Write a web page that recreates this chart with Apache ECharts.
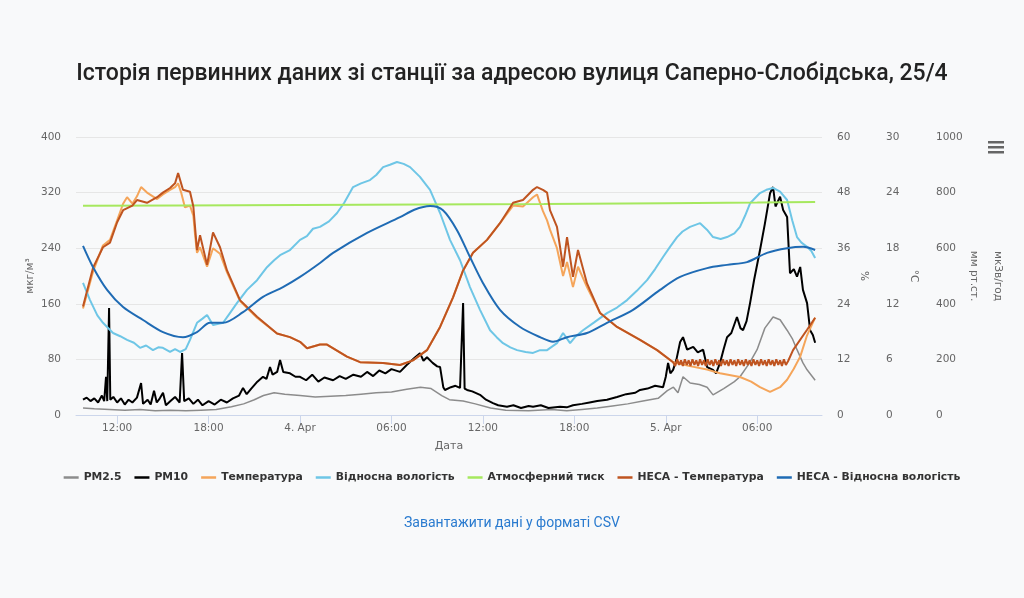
<!DOCTYPE html>
<html>
<head>
<meta charset="utf-8">
<script src="https://cdn.jsdelivr.net/npm/echarts@6/dist/echarts.min.js"></script>
<style>
html,body{margin:0;padding:0;background:#f8f9fa;}
#c{width:1024px;height:598px;}
</style>
</head>
<body>
<div id="c"></div>
<script>
// Time values are hours since 3 Apr 00:00
const xTickHours = [12, 18, 24, 30, 36, 42, 48, 54];
const xTickLabels = ['12:00', '18:00', '4. Apr', '06:00', '12:00', '18:00', '5. Apr', '06:00'];

const pm25 = [[9.76,10],[10.5,9],[11.5,8],[12.5,7],[13.5,8],[14.5,6],[15.5,7],[16.5,6],[17.5,7],[18.5,8],[19.5,12],[20.3,16],[21.0,22],[21.6,28],[22.3,32],[23.0,30],[24.0,28],[25.0,26],[26.0,27],[27.0,28],[28.0,30],[29.0,32],[30.0,33],[31.0,37],[31.9,40],[32.6,38],[33.3,28],[33.8,22],[34.7,20],[35.5,16],[36.5,10],[37.5,7],[39.0,6],[40.5,8],[41.5,6],[42.5,8],[43.5,10],[44.5,13],[45.5,16],[46.5,20],[47.5,24],[48.1,35],[48.5,40],[48.8,32],[49.13,55],[49.6,46],[50.2,44],[50.71,40],[51.1,29],[51.8,38],[52.5,48],[52.87,55],[53.5,75],[53.99,94],[54.5,125],[55.04,141],[55.5,137],[55.96,122],[56.3,110],[56.61,94],[57.0,75],[57.27,65],[57.8,50]];

const pm10 = [[9.76,22],[10.0,25],[10.25,20],[10.5,24],[10.75,18],[11.0,28],[11.15,20],[11.27,55],[11.35,20],[11.47,154],[11.55,22],[11.75,26],[12.0,18],[12.25,24],[12.5,15],[12.75,22],[13.0,18],[13.3,25],[13.57,46],[13.7,16],[14.0,22],[14.2,15],[14.42,35],[14.6,18],[14.8,24],[15.01,32],[15.2,14],[15.5,20],[15.8,26],[16.1,18],[16.26,89],[16.4,20],[16.7,24],[17.0,16],[17.3,22],[17.6,14],[18.0,20],[18.4,15],[18.8,22],[19.2,18],[19.6,24],[20.0,28],[20.26,39],[20.5,30],[20.8,38],[21.2,48],[21.57,55],[21.8,52],[22.03,69],[22.2,58],[22.5,62],[22.69,79],[22.9,62],[23.34,60],[23.7,55],[24.0,55],[24.4,50],[24.8,58],[25.2,48],[25.6,54],[26.17,50],[26.6,56],[27.0,52],[27.5,58],[28.0,55],[28.4,62],[28.8,56],[29.2,64],[29.6,60],[30.0,66],[30.56,62],[31.0,72],[31.5,82],[31.87,89],[32.1,78],[32.33,83],[32.7,75],[33.0,70],[33.19,69],[33.4,40],[33.51,36],[33.9,40],[34.2,42],[34.5,39],[34.7,161],[34.8,38],[34.96,36],[35.3,34],[35.81,29],[36.2,22],[36.66,17],[37.0,14],[37.58,12],[38.0,14],[38.5,10],[39.0,13],[39.29,12],[39.8,14],[40.3,10],[41.06,12],[41.5,11],[41.91,14],[42.5,16],[43.0,18],[43.5,20],[44.14,22],[44.8,26],[45.4,30],[46.0,32],[46.31,36],[46.8,38],[47.3,42],[47.82,40],[48.0,55],[48.15,75],[48.3,60],[48.48,65],[48.7,80],[48.94,105],[49.13,112],[49.4,94],[49.8,98],[50.1,90],[50.45,94],[50.71,69],[51.1,65],[51.3,60],[51.56,75],[51.8,95],[52.02,112],[52.3,118],[52.67,141],[52.9,125],[53.07,122],[53.3,135],[53.53,161],[53.8,195],[54.18,237],[54.5,275],[54.84,319],[55.04,328],[55.2,300],[55.5,314],[55.7,295],[55.96,285],[56.15,204],[56.4,210],[56.61,199],[56.82,213],[57.0,180],[57.27,161],[57.47,122],[57.65,115],[57.8,104]];

const temperature = [[9.76,11.5],[10.42,15.5],[11.07,18.3],[11.53,18.9],[12.0,21.0],[12.39,22.8],[12.65,23.5],[13.0,22.8],[13.3,23.6],[13.57,24.6],[13.96,24.0],[14.62,23.3],[15.0,23.8],[15.47,24.3],[15.8,24.6],[16.0,25.0],[16.2,24.0],[16.45,22.4],[16.78,22.6],[17.0,21.5],[17.11,19.5],[17.24,17.5],[17.44,18.1],[17.9,16.0],[18.29,18.0],[18.75,17.4],[19.21,15.4],[20.06,12.3],[21.18,10.5],[22.49,8.8],[23.34,8.4],[24.0,7.9],[24.46,7.2],[25.31,7.6],[25.77,7.6],[27.08,6.3],[27.94,5.7],[29.45,5.6],[30.56,5.4],[31.41,5.9],[32.33,7.0],[33.19,9.5],[34.04,12.7],[34.7,15.6],[35.35,17.5],[36.27,18.9],[37.12,20.7],[37.98,22.6],[38.63,22.5],[39.29,23.5],[39.55,23.8],[39.94,22.0],[40.21,21.0],[40.4,20.0],[40.86,18.0],[41.26,15.0],[41.52,16.5],[41.91,13.8],[42.24,16.0],[42.83,13.8],[43.69,11.0],[44.80,9.5],[46.31,8.1],[47.43,7.0],[48.48,5.7],[49.5,5.3],[50.71,4.9],[51.56,4.5],[52.87,4.1],[53.6,3.6],[54.18,3.0],[54.84,2.5],[55.5,3.0],[55.96,3.8],[56.4,5.0],[56.82,6.3],[57.27,8.6],[57.8,10.5]];

const humidity = [[9.76,28.5],[10.22,24.8],[10.7,21.5],[11.07,19.9],[11.73,17.7],[12.2,17.0],[12.65,16.2],[13.1,15.6],[13.5,14.5],[13.9,15.0],[14.35,14.0],[14.7,14.6],[15.0,14.5],[15.47,13.6],[15.8,14.2],[16.13,13.6],[16.5,14.2],[16.78,16.2],[17.24,19.9],[17.6,20.8],[17.9,21.6],[18.29,19.4],[18.95,19.9],[19.4,22.0],[19.87,24.2],[20.52,27.0],[21.18,29.1],[21.83,31.9],[22.3,33.4],[22.69,34.5],[23.34,35.6],[24.0,37.8],[24.45,38.6],[24.85,40.2],[25.31,40.6],[25.9,41.8],[26.43,43.6],[26.9,45.8],[27.48,49.2],[28.0,50.0],[28.59,50.7],[29.0,51.8],[29.45,53.5],[29.9,54.0],[30.36,54.6],[30.8,54.2],[31.22,53.5],[31.87,51.4],[32.53,48.6],[33.19,43.6],[33.84,37.8],[34.5,33.4],[35.15,27.6],[35.81,22.7],[36.47,18.3],[36.9,16.8],[37.32,15.5],[37.8,14.6],[38.24,14.0],[38.8,13.6],[39.29,13.4],[39.75,14.0],[40.21,14.0],[40.86,15.5],[41.26,17.7],[41.72,15.5],[42.1,17.0],[42.57,18.3],[43.3,20.0],[44.14,22.0],[44.8,23.2],[45.46,24.8],[46.1,26.8],[46.77,29.1],[47.3,31.5],[47.82,34.1],[48.3,36.4],[48.74,38.4],[49.1,39.6],[49.59,40.6],[50.25,41.4],[50.7,40.0],[51.10,38.4],[51.6,38.0],[52.02,38.4],[52.5,39.2],[52.87,40.6],[53.2,43.0],[53.53,45.7],[54.18,47.9],[54.6,48.6],[55.04,49.0],[55.5,48.2],[55.96,46.4],[56.3,42.0],[56.61,38.4],[56.9,37.2],[57.27,36.3],[57.55,35.4],[57.8,33.9]];

const pressure = [[9.76,753],[16,754],[24,755],[32,757],[40,759],[48,762],[54,764],[57.8,766]];

const hecaTemperature = [[9.76,11.7],[10.42,15.9],[11.07,18.1],[11.53,18.6],[12.0,20.8],[12.39,22.1],[13.0,22.6],[13.3,23.2],[13.96,22.9],[14.62,23.5],[15.0,24.0],[15.47,24.5],[15.8,25.0],[16.0,26.1],[16.32,24.3],[16.78,24.1],[17.0,22.5],[17.11,20.3],[17.24,17.8],[17.44,19.4],[17.9,16.2],[18.29,19.7],[18.75,18.1],[19.21,15.6],[20.06,12.4],[21.18,10.6],[22.49,8.8],[23.34,8.4],[24.0,7.9],[24.46,7.2],[25.31,7.6],[25.77,7.6],[27.08,6.3],[27.94,5.7],[29.45,5.6],[30.56,5.4],[31.41,5.9],[32.33,7.0],[33.19,9.5],[34.04,12.7],[34.7,15.6],[35.35,17.5],[36.27,18.9],[37.12,20.7],[37.98,22.9],[38.63,23.2],[39.29,24.3],[39.55,24.6],[39.94,24.3],[40.21,24.0],[40.4,22.1],[40.86,20.3],[41.26,16.0],[41.52,19.2],[41.91,14.9],[42.24,17.8],[42.83,14.2],[43.69,11.0],[44.80,9.5],[46.31,8.1],[47.43,7.0],[48.48,5.7],[48.62,5.3],[48.75,6.0],[48.88,5.4],[49.0,5.9],[49.12,5.3],[49.25,6.0],[49.38,5.4],[49.5,5.9],[49.62,5.3],[49.75,6.0],[49.88,5.4],[50.0,5.9],[50.12,5.3],[50.25,6.0],[50.38,5.4],[50.5,5.9],[50.62,5.3],[50.75,6.0],[50.88,5.4],[51.0,5.9],[51.12,5.3],[51.25,6.0],[51.38,5.4],[51.5,5.9],[51.62,5.3],[51.75,6.0],[51.88,5.4],[52.0,5.9],[52.12,5.3],[52.25,6.0],[52.38,5.4],[52.5,5.9],[52.62,5.3],[52.75,6.0],[52.88,5.4],[53.0,5.9],[53.12,5.3],[53.25,6.0],[53.38,5.4],[53.5,5.9],[53.62,5.3],[53.75,6.0],[53.88,5.4],[54.0,5.9],[54.12,5.3],[54.25,6.0],[54.38,5.4],[54.5,5.9],[54.62,5.3],[54.75,6.0],[54.88,5.4],[55.0,5.9],[55.12,5.3],[55.25,6.0],[55.38,5.4],[55.5,5.9],[55.62,5.3],[55.75,6.0],[55.88,5.4],[56.02,5.8],[56.35,7.0],[57.27,9.2],[57.8,10.5]];

const hecaHumidity = [[9.76,36.5],[10.42,31.9],[11.34,27.0],[12.39,23.3],[13.7,20.5],[15.01,17.9],[16.32,16.8],[17.24,17.9],[18.09,19.9],[18.95,19.9],[20.26,22.2],[21.57,25.5],[22.88,27.6],[24.0,29.8],[25.31,32.8],[26.17,35.0],[28.40,39.3],[30.56,42.7],[31.5,44.3],[32.53,45.1],[33.38,44.2],[34.30,39.9],[35.15,34.1],[36.0,28.5],[37.12,22.7],[38.44,19.0],[39.75,16.8],[40.60,15.8],[41.52,16.8],[42.83,17.7],[44.14,19.9],[45.85,22.7],[47.62,27.0],[48.94,29.8],[50.71,31.7],[52.02,32.4],[53.33,33.0],[54.64,35.0],[55.96,36.0],[57.01,36.3],[57.8,35.6]];

const seriesNames = ['PM2.5', 'PM10', 'Температура', 'Відносна вологість', 'Атмосферний тиск', 'НЕСА - Температура', 'НЕСА - Відносна вологість'];
const seriesColors = ['#8c8c8c', '#000000', '#f5a55a', '#6ec6e6', '#a6e85e', '#bf5420', '#1f6bb4'];

const chart = echarts.init(document.getElementById('c'));
const lbl = {color:'#666', fontFamily:'DejaVu Sans', fontSize:10.5};
const nameStyle = {color:'#666', fontFamily:'DejaVu Sans', fontSize:10.5};
const plainNum = function(v){ return String(v); };

function mk(i, data, yIdx, extra) {
  return Object.assign({
    name: seriesNames[i], type:'line', data: data, yAxisIndex: yIdx,
    showSymbol:false, symbol:'none', lineStyle:{width:2, color:seriesColors[i]},
    itemStyle:{color:seriesColors[i]}, animation:false, z: 2 + i
  }, extra || {});
}

chart.setOption({
  backgroundColor:'#f8f9fa',
  animation:false,
  title:{text:'Історія первинних даних зі станції за адресою вулиця Саперно-Слобідська, 25/4', left:'center', top:58,
    textStyle:{fontFamily:'Roboto', fontWeight:500, fontSize:23, color:'#222'}},
  legend:{top:467, left:'center', icon:'rect', itemWidth:15, itemHeight:2.5, itemGap:13,
    textStyle:{fontFamily:'DejaVu Sans', fontWeight:'bold', fontSize:10.8, color:'#333'},
    data: seriesNames},
  grid:{left:76, right:202, top:137, bottom:183},
  xAxis:{type:'value', min:9.3, max:58.25, name:'Дата', nameLocation:'middle', nameGap:26, nameMoveOverlap:false,
    nameTextStyle:{color:'#666', fontFamily:'DejaVu Sans', fontSize:11},
    axisLine:{lineStyle:{color:'#ccd6eb'}},
    axisTick:{customValues:xTickHours, length:9, lineStyle:{color:'#ccd6eb'}},
    axisLabel:Object.assign({customValues:xTickHours, margin:8, formatter:function(v){ const i = xTickHours.indexOf(v); return i>=0 ? xTickLabels[i] : ''; }}, lbl),
    splitLine:{show:false}},
  yAxis:[
    {type:'value', position:'left', min:0, max:400, interval:80, name:'мкг/м³', nameLocation:'middle', nameGap:40, nameMoveOverlap:false,
     nameTextStyle:nameStyle, axisLabel:Object.assign({margin:15, formatter:plainNum}, lbl), axisLine:{show:false}, axisTick:{show:false},
     splitLine:{lineStyle:{color:'#e6e6e6'}}},
    {type:'value', position:'right', offset:0, min:0, max:60, interval:12, name:'%', nameLocation:'middle', nameGap:36, nameRotate:-90, nameMoveOverlap:false,
     nameTextStyle:nameStyle, axisLabel:Object.assign({margin:15, formatter:plainNum}, lbl), axisLine:{show:false}, axisTick:{show:false}, splitLine:{show:false}},
    {type:'value', position:'right', offset:49, min:0, max:30, interval:6, name:'°C', nameLocation:'middle', nameGap:37, nameRotate:-90, nameMoveOverlap:false,
     nameTextStyle:nameStyle, axisLabel:Object.assign({margin:15, formatter:plainNum}, lbl), axisLine:{show:false}, axisTick:{show:false}, splitLine:{show:false}},
    {type:'value', position:'right', offset:99, min:0, max:1000, interval:200, name:'мм рт.ст.', nameLocation:'middle', nameGap:47, nameRotate:-90, nameMoveOverlap:false,
     nameTextStyle:nameStyle, axisLabel:Object.assign({margin:15, formatter:plainNum}, lbl), axisLine:{show:false}, axisTick:{show:false}, splitLine:{show:false}},
    {type:'value', position:'right', offset:149, min:0, max:1, name:'мкЗв/год', nameLocation:'middle', nameGap:21, nameRotate:-90, nameMoveOverlap:false,
     nameTextStyle:nameStyle, axisLabel:{show:false}, axisLine:{show:false}, axisTick:{show:false}, splitLine:{show:false}}
  ],
  series:[
    mk(0, pm25, 0, {lineStyle:{width:1.5, color:seriesColors[0]}}),
    mk(1, pm10, 0),
    mk(2, temperature, 2),
    mk(3, humidity, 1),
    mk(4, pressure, 3),
    mk(5, hecaTemperature, 2),
    mk(6, hecaHumidity, 1, {smooth:0.3})
  ],
  graphic:[
    {type:'text', left:'center', top:516, style:{text:'Завантажити дані у форматі CSV', fill:'#2a7bcf', font:'14px Roboto'}},
    {type:'rect', shape:{x:988, y:141, width:16, height:2.5}, style:{fill:'#666'}},
    {type:'rect', shape:{x:988, y:146, width:16, height:2.5}, style:{fill:'#666'}},
    {type:'rect', shape:{x:988, y:151, width:16, height:2.5}, style:{fill:'#666'}}
  ]
});
</script>
</body>
</html>
